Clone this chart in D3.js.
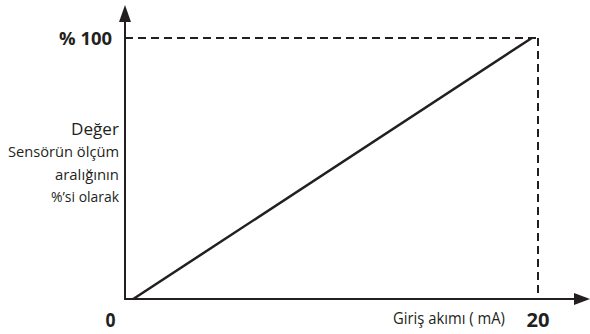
<!DOCTYPE html>
<html><head><meta charset="utf-8">
<script src="https://cdn.jsdelivr.net/npm/d3@7"></script>
<style>body{margin:0;background:#fff}svg{display:block}text{fill:#231f20}</style>
</head><body>
<svg id="c" width="590" height="334"></svg>
<script>
// Data
const xDomain = [0, 20];          // input current, mA
const yDomain = [0, 100];         // % of measuring range
const lineX = [0.4, 19.7];        // characteristic line current values
const lineY = [0, 100];           // characteristic line percentage values
const xTickLabels = ["0", "20"];
const yTickLabels = ["% 100"];
const yTitle = ["Değer", "Sensörün ölçüm", "aralığının", "%’si olarak"];
const xTitle = "Giriş akımı ( mA)";

const svg = d3.select("#c");
const col = "#231f20";
const x = d3.scaleLinear().domain(xDomain).range([125, 538]);
const y = d3.scaleLinear().domain(yDomain).range([299, 38]);

// dashed guides
svg.append("line").attr("x1", x(0)).attr("x2", x(20)).attr("y1", y(100)).attr("y2", y(100))
  .attr("stroke", col).attr("stroke-width", 2).attr("stroke-dasharray", "8,5");
svg.append("line").attr("x1", x(20)).attr("x2", x(20)).attr("y1", y(100)).attr("y2", y(0))
  .attr("stroke", col).attr("stroke-width", 2).attr("stroke-dasharray", "8,5");

// axes
svg.append("line").attr("x1", x(0)).attr("x2", x(0)).attr("y1", y(0) + 1).attr("y2", 20)
  .attr("stroke", col).attr("stroke-width", 2);
svg.append("path").attr("d", `M${x(0)},5 L${x(0) - 6},22 L${x(0) + 6},22 Z`).attr("fill", col);
svg.append("line").attr("x1", x(0) - 1).attr("x2", 577).attr("y1", y(0)).attr("y2", y(0))
  .attr("stroke", col).attr("stroke-width", 2);
svg.append("path").attr("d", `M590,${y(0)} L574,${y(0) - 6} L574,${y(0) + 6} Z`).attr("fill", col);

// characteristic line
const pts = lineX.map((v, i) => [v, lineY[i]]);
svg.append("path").datum(pts)
  .attr("d", d3.line().x(d => x(d[0])).y(d => y(d[1])))
  .attr("fill", "none").attr("stroke", col).attr("stroke-width", 2.5);

// labels
const ff = "'Open Sans', 'Noto Sans', sans-serif";
function lbl(t, px, py, size, len, bold, anchor) {
  svg.append("text").attr("x", px).attr("y", py).attr("text-anchor", anchor)
    .attr("font-family", ff).attr("font-weight", bold ? "bold" : "normal").attr("font-size", size)
    .attr("textLength", len).attr("lengthAdjust", "spacingAndGlyphs").text(t);
}
lbl(yTickLabels[0], 112, 45, 18, 53, true, "end");
lbl(xTickLabels[0], 110.5, 327, 19, 10, true, "middle");
lbl(xTickLabels[1], x(20), 327, 19, 23, true, "middle");
lbl(xTitle, 449, 324, 15.5, 112, false, "middle");

const yl = [[135, 17, 48], [157, 14, 111], [180, 14, 64], [202, 14, 68]];
yTitle.forEach((t, i) => lbl(t, 119, yl[i][0], yl[i][1], yl[i][2], false, "end"));
</script>
</body></html>
